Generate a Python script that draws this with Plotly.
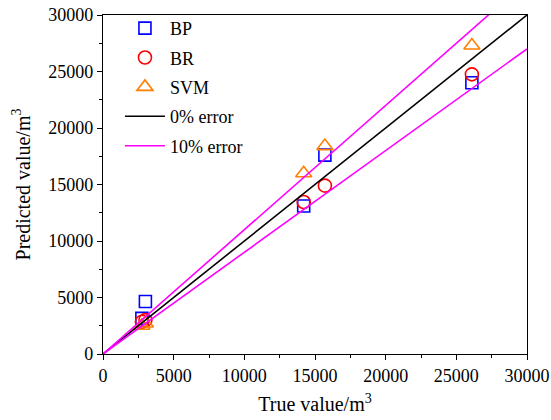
import plotly.graph_objects as go

true_vals = [2750, 3000, 14200, 15700, 26100]
bp_pred = [3150, 4650, 13100, 17600, 24000]
br_pred = [2850, 3000, 13450, 14900, 24750]
svm_pred = [2500, 2700, 16000, 18400, 27300]

ref_x = [0, 30000]
err = 0.10
ref_y = ref_x
upper_y = [v * (1 + err) for v in ref_x]
lower_y = [v * (1 - err) for v in ref_x]

FONT = "Liberation Serif"

fig = go.Figure()
fig.add_trace(go.Scatter(x=true_vals, y=bp_pred, mode="markers", name="BP", legendgroup="a",
                         marker=dict(symbol="square-open", size=12, color="#0000FF", line=dict(width=1.6))))
fig.add_trace(go.Scatter(x=true_vals, y=br_pred, mode="markers", name="BR", legendgroup="b",
                         marker=dict(symbol="circle-open", size=13, color="#FF0000", line=dict(width=1.6))))
fig.add_trace(go.Scatter(x=true_vals, y=svm_pred, mode="markers", name="SVM", legendgroup="c",
                         marker=dict(symbol="triangle-up-open", size=14, color="#FF7F00", line=dict(width=1.6))))
fig.add_trace(go.Scatter(x=ref_x, y=ref_y, mode="lines", name="0% error", legendgroup="d",
                         line=dict(color="black", width=1.6)))
fig.add_trace(go.Scatter(x=ref_x, y=lower_y, mode="lines", name="10% error", legendgroup="e",
                         showlegend=False, line=dict(color="#FF00FF", width=1.6)))
fig.add_trace(go.Scatter(x=ref_x, y=upper_y, mode="lines", name="10% error", legendgroup="e",
                         showlegend=True, line=dict(color="#FF00FF", width=1.6)))

axis_common = dict(
    range=[0, 30000], showgrid=False, zeroline=False, showline=True, linecolor="black", linewidth=1.3,
    mirror=True, ticks="outside", ticklen=5, tickwidth=1.2, tickcolor="black", dtick=5000,
    tickformat="d", automargin=False,
    tickfont=dict(family=FONT, size=18, color="black"),
    minor=dict(ticks="outside", ticklen=3, tickwidth=1, tickcolor="black", dtick=2500),
)

fig.update_layout(
    width=551, height=420,
    margin=dict(l=103, r=24, t=15, b=66, autoexpand=False),
    paper_bgcolor="white", plot_bgcolor="white",
    font=dict(family=FONT, color="black"),
    xaxis=dict(axis_common, title=dict(text="True value/m<sup>3</sup>", font=dict(family=FONT, size=20), standoff=12)),
    yaxis=dict(axis_common, title=dict(text="Predicted value/m<sup>3</sup>", font=dict(family=FONT, size=20), standoff=12)),
    legend=dict(x=0.04, y=1.015, xanchor="left", yanchor="top", bgcolor="rgba(0,0,0,0)",
                font=dict(family=FONT, size=18), tracegroupgap=3, traceorder="grouped", itemwidth=40),
    showlegend=True,
)

fig.write_html("out.html", config={"displayModeBar": False},
               post_script="document.body.style.margin='0';document.body.style.overflow='hidden';")
